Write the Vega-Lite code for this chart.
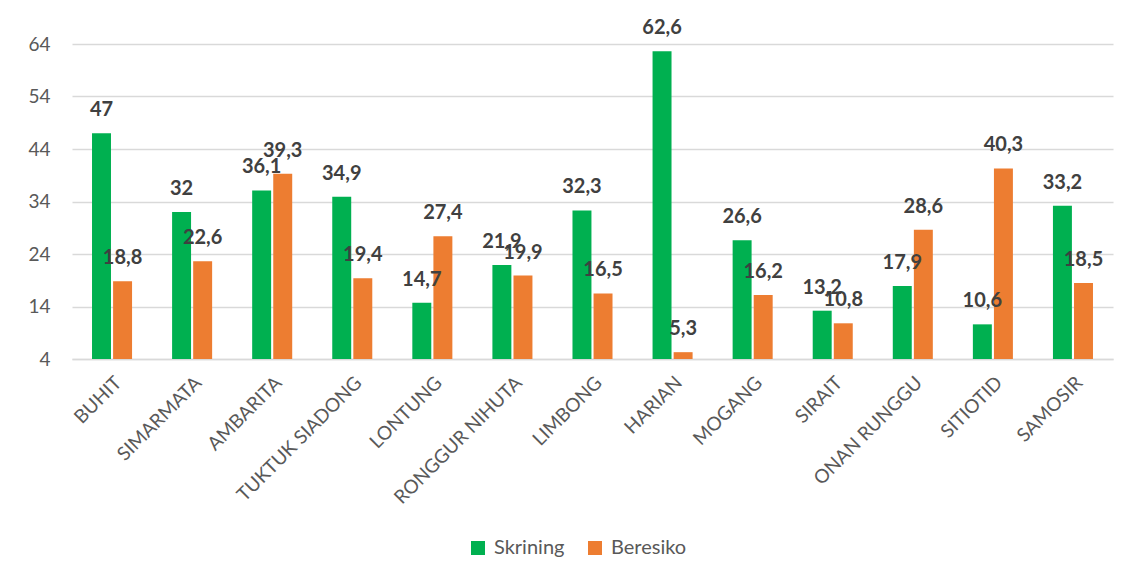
{
  "$schema": "https://vega.github.io/schema/vega-lite/v6.json",
  "width": 1041,
  "height": 315,
  "autosize": "none",
  "padding": {"left": 72, "top": 44, "right": 22, "bottom": 219},
  "background": "white",
  "config": {
    "locale": {"number": {"decimal": ",", "thousands": ".", "grouping": [3], "currency": ["", ""]}},
    "view": {"stroke": null},
    "font": "Lato"
  },
  "data": {
    "values": [
      {"lokasi": "BUHIT", "seri": "Skrining", "nilai": 47},
      {"lokasi": "BUHIT", "seri": "Beresiko", "nilai": 18.8},
      {"lokasi": "SIMARMATA", "seri": "Skrining", "nilai": 32},
      {"lokasi": "SIMARMATA", "seri": "Beresiko", "nilai": 22.6},
      {"lokasi": "AMBARITA", "seri": "Skrining", "nilai": 36.1},
      {"lokasi": "AMBARITA", "seri": "Beresiko", "nilai": 39.3},
      {"lokasi": "TUKTUK SIADONG", "seri": "Skrining", "nilai": 34.9},
      {"lokasi": "TUKTUK SIADONG", "seri": "Beresiko", "nilai": 19.4},
      {"lokasi": "LONTUNG", "seri": "Skrining", "nilai": 14.7},
      {"lokasi": "LONTUNG", "seri": "Beresiko", "nilai": 27.4},
      {"lokasi": "RONGGUR NIHUTA", "seri": "Skrining", "nilai": 21.9},
      {"lokasi": "RONGGUR NIHUTA", "seri": "Beresiko", "nilai": 19.9},
      {"lokasi": "LIMBONG", "seri": "Skrining", "nilai": 32.3},
      {"lokasi": "LIMBONG", "seri": "Beresiko", "nilai": 16.5},
      {"lokasi": "HARIAN", "seri": "Skrining", "nilai": 62.6},
      {"lokasi": "HARIAN", "seri": "Beresiko", "nilai": 5.3},
      {"lokasi": "MOGANG", "seri": "Skrining", "nilai": 26.6},
      {"lokasi": "MOGANG", "seri": "Beresiko", "nilai": 16.2},
      {"lokasi": "SIRAIT", "seri": "Skrining", "nilai": 13.2},
      {"lokasi": "SIRAIT", "seri": "Beresiko", "nilai": 10.8},
      {"lokasi": "ONAN RUNGGU", "seri": "Skrining", "nilai": 17.9},
      {"lokasi": "ONAN RUNGGU", "seri": "Beresiko", "nilai": 28.6},
      {"lokasi": "SITIOTID", "seri": "Skrining", "nilai": 10.6},
      {"lokasi": "SITIOTID", "seri": "Beresiko", "nilai": 40.3},
      {"lokasi": "SAMOSIR", "seri": "Skrining", "nilai": 33.2},
      {"lokasi": "SAMOSIR", "seri": "Beresiko", "nilai": 18.5}
    ]
  },
  "encoding": {
    "x": {
      "field": "lokasi",
      "type": "nominal",
      "sort": null,
      "scale": {"paddingInner": 0.5, "paddingOuter": 0.25},
      "axis": {
        "title": null,
        "labelAngle": -45,
        "labelFontSize": 19,
        "labelColor": "#595959",
        "labelPadding": 14,
        "ticks": false,
        "domain": true,
        "domainColor": "#d9d9d9",
        "domainWidth": 1.5
      }
    },
    "xOffset": {
      "field": "seri",
      "type": "nominal",
      "sort": ["Skrining", "Beresiko"],
      "scale": {"paddingInner": 0.1}
    },
    "y": {
      "field": "nilai",
      "type": "quantitative",
      "scale": {"domain": [4, 64], "nice": false, "zero": false},
      "axis": {
        "title": null,
        "values": [4, 14, 24, 34, 44, 54, 64],
        "labelFontSize": 19,
        "labelColor": "#595959",
        "labelPadding": 22,
        "ticks": false,
        "domain": false,
        "gridColor": "#d9d9d9",
        "gridWidth": 1.5
      }
    },
    "color": {
      "field": "seri",
      "type": "nominal",
      "sort": ["Skrining", "Beresiko"],
      "scale": {"domain": ["Skrining", "Beresiko"], "range": ["#00b050", "#ed7d31"]},
      "legend": {
        "title": null,
        "orient": "none",
        "direction": "horizontal",
        "legendX": 396,
        "legendY": 494,
        "symbolType": "square",
        "symbolSize": 196,
        "symbolStrokeWidth": 0,
        "labelFontSize": 20,
        "labelColor": "#595959",
        "columnPadding": 20,
        "labelOffset": 6
      }
    }
  },
  "layer": [
    {"mark": {"type": "bar"}, "encoding": {"y2": {"datum": 4}}},
    {
      "mark": {"type": "text", "baseline": "bottom", "dy": -13, "fontSize": 20, "fontWeight": "bold", "color": "#404040"},
      "encoding": {
        "text": {"field": "nilai", "type": "quantitative", "format": ".1~f"},
        "color": {"value": "#404040"}
      }
    }
  ]
}
